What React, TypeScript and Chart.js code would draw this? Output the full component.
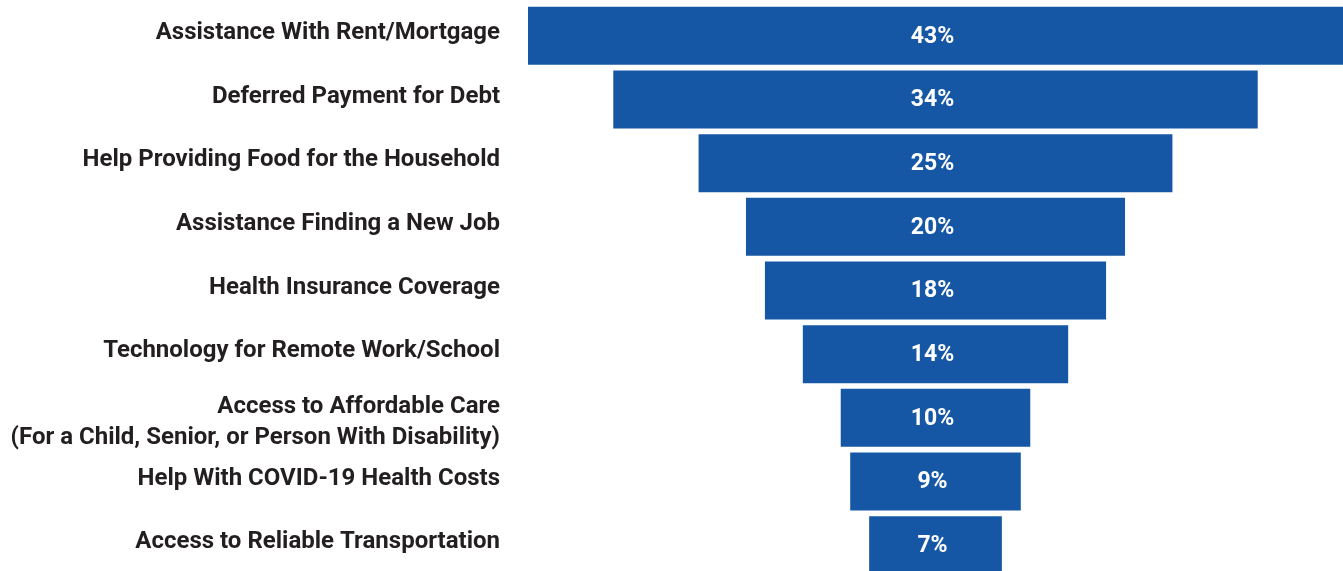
import React, { useEffect, useRef } from "react";
import { Chart, registerables } from "chart.js";

Chart.register(...registerables);

const categories: string[][] = [
  ["Assistance With Rent/Mortgage"],
  ["Deferred Payment for Debt"],
  ["Help Providing Food for the Household"],
  ["Assistance Finding a New Job"],
  ["Health Insurance Coverage"],
  ["Technology for Remote Work/School"],
  ["Access to Affordable Care", "(For a Child, Senior, or Person With Disability)"],
  ["Help With COVID-19 Health Costs"],
  ["Access to Reliable Transportation"],
];

const shares: number[] = [43, 34, 25, 20, 18, 14, 10, 9, 7];

const BAR_COLOR = "#1557A5";
const LABEL_COLOR = "#231F20";
const FONT = "Roboto";
const LABEL_RIGHT = 500;

// Category names to the left of the funnel, and the percentage inside each bar.
const funnelText = {
  id: "funnelText",
  afterDatasetsDraw(chart: any) {
    const { ctx } = chart;
    const meta = chart.getDatasetMeta(0);
    const cx = chart.scales.x.getPixelForValue(0);
    ctx.save();
    ctx.textBaseline = "middle";

    ctx.fillStyle = LABEL_COLOR;
    ctx.font = `bold 24px ${FONT}`;
    ctx.textAlign = "right";
    const lineHeight = 31;
    meta.data.forEach((bar: any, i: number) => {
      const lines = categories[i];
      // two-line names sit a little lower so the second line clears the row
      const shift = lines.length > 1 ? 5 : -3;
      const y0 = bar.y + shift - ((lines.length - 1) * lineHeight) / 2;
      lines.forEach((line, j) => {
        ctx.fillText(line, LABEL_RIGHT, y0 + j * lineHeight);
      });
    });

    ctx.fillStyle = "#ffffff";
    ctx.font = `bold 23px ${FONT}`;
    ctx.textAlign = "center";
    meta.data.forEach((bar: any, i: number) => {
      ctx.fillText(`${shares[i]}%`, cx - 3, bar.y + 1);
    });
    ctx.restore();
  },
};

export default function App() {
  const canvasRef = useRef<HTMLCanvasElement | null>(null);

  useEffect(() => {
    if (!canvasRef.current) return;
    const maxShare = Math.max(...shares);
    const chart = new Chart(canvasRef.current, {
      type: "bar",
      data: {
        labels: categories.map((c) => c.join(" ")),
        datasets: [
          {
            data: shares.map((v) => [-v / 2, v / 2]) as any,
            backgroundColor: BAR_COLOR,
            borderWidth: 0,
            barPercentage: 0.91,
            categoryPercentage: 1,
          },
        ],
      },
      options: {
        indexAxis: "y",
        animation: false,
        responsive: false,
        maintainAspectRatio: false,
        layout: { padding: { top: 4, right: 0, bottom: 0, left: 528 } },
        plugins: {
          legend: { display: false },
          tooltip: { enabled: false },
        },
        scales: {
          x: {
            display: false,
            min: -maxShare / 2,
            max: maxShare / 2,
          },
          y: {
            display: false,
          },
        },
      },
      plugins: [funnelText],
    });
    return () => chart.destroy();
  }, []);

  return (
    <div style={{ position: "fixed", left: 0, top: 0, width: 1343, height: 577, background: "#fff" }}>
      <canvas ref={canvasRef} width={1343} height={577} style={{ display: "block" }} />
    </div>
  );
}
